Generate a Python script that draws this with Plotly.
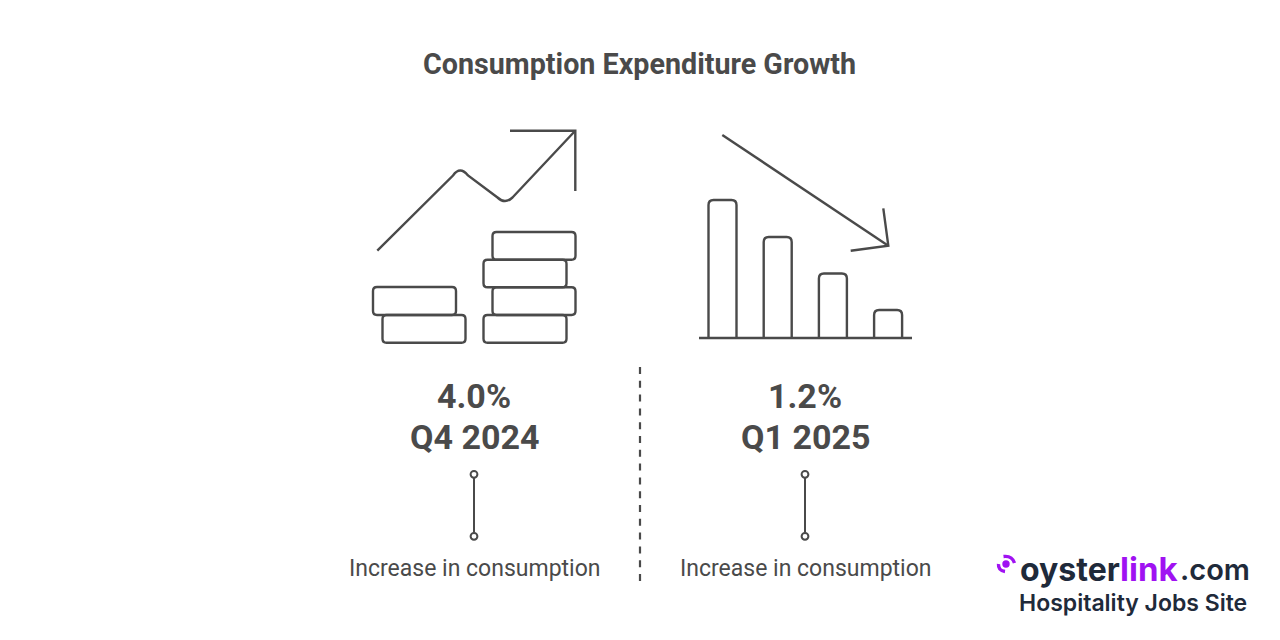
import plotly.graph_objects as go

# text content
titulo = "Consumption Expenditure Growth"
valores = ["4.0%", "1.2%"]
trimestres = ["Q4 2024", "Q1 2025"]
descripcion = ["Increase in consumption", "Increase in consumption"]
centros = [474, 805]

# icon bars (center, height)
barras_x = [722.5, 777.7, 832.9, 888.1]
barras_alto = [138, 101, 64.5, 28]
BASE = 338
ANCHO = 28

# coins: x0, x1, y0, y1
monedas = [
    (373, 456, 287, 315),
    (382.5, 465.5, 315, 342.7),
    (492.5, 575.5, 232, 259.7),
    (483.5, 566.5, 259.7, 287.3),
    (492.5, 575.5, 287.3, 315),
    (483.5, 566.5, 315, 342.7),
]

COLOR = "#4a4a4a"
OSCURO = "#1f2a3a"
VIOLETA = "#a012f2"


def rect_redondeado(x0, x1, y0, y1, r=4):
    return (f"M {x0+r} {y0} L {x1-r} {y0} Q {x1} {y0} {x1} {y0+r} L {x1} {y1-r} Q {x1} {y1} {x1-r} {y1} "
            f"L {x0+r} {y1} Q {x0} {y1} {x0} {y1-r} L {x0} {y0+r} Q {x0} {y0} {x0+r} {y0} Z")


def barra(cx, alto, r=5):
    # open at the foot: the baseline closes it, corners only on top
    x0, x1, y0 = cx - ANCHO / 2, cx + ANCHO / 2, BASE - alto
    return (f"M {x0} {BASE} L {x0} {y0+r} Q {x0} {y0} {x0+r} {y0} L {x1-r} {y0} "
            f"Q {x1} {y0} {x1} {y0+r} L {x1} {BASE}")


fig = go.Figure()

for cx, alto in zip(barras_x, barras_alto):
    fig.add_shape(type="path", path=barra(cx, alto), line=dict(color=COLOR, width=2.4))

for m in monedas:
    fig.add_shape(type="path", path=rect_redondeado(*m), line=dict(color=COLOR, width=2.4))

# up arrow with rounded peaks
fig.add_shape(type="path", line=dict(color=COLOR, width=2.4),
              path="M 377.3 250.7 L 453 175.5 Q 460 165.5 468 175.5 L 497.5 197.5 Q 505 204.5 512.5 197.5 L 575 131")
fig.add_shape(type="path", line=dict(color=COLOR, width=2.4),
              path="M 510 130.7 L 575.3 130.7 L 575.3 191")
# down arrow
fig.add_shape(type="path", line=dict(color=COLOR, width=2.4),
              path="M 722.3 135 L 888.3 245.7")
fig.add_shape(type="path", line=dict(color=COLOR, width=2.4),
              path="M 883.3 208.3 L 888.3 245.7 L 850.7 250.7")
# baseline
fig.add_shape(type="line", x0=699, x1=912, y0=BASE, y1=BASE, line=dict(color=COLOR, width=2.4))
# divider
fig.add_shape(type="line", x0=640, x1=640, y0=367, y1=582,
              line=dict(color=COLOR, width=2.2, dash="7px,6.8px"))

for cx, val, tri, desc in zip(centros, valores, trimestres, descripcion):
    fig.add_shape(type="line", x0=cx, x1=cx, y0=477.5, y1=532.5, line=dict(color=COLOR, width=2))
    for cy in [474.3, 536.3]:
        fig.add_shape(type="circle", x0=cx-3.4, x1=cx+3.4, y0=cy-3.4, y1=cy+3.4,
                      line=dict(color=COLOR, width=2), fillcolor="white")
    fig.add_annotation(x=cx, y=396, text=f"<b>{val}</b>", font=dict(size=34, color=COLOR, family="Roboto"),
                       showarrow=False, yanchor="middle")
    fig.add_annotation(x=cx, y=437, text=f"<b>{tri}</b>", font=dict(size=34, color=COLOR, family="Roboto"),
                       showarrow=False, yanchor="middle")
    fig.add_annotation(x=cx, y=568, text=desc, font=dict(size=23, color=COLOR, family="Roboto"),
                       showarrow=False, yanchor="middle")

fig.add_annotation(x=639.3, y=64, text=f"<b>{titulo}</b>", font=dict(size=28.7, color=COLOR, family="Roboto"),
                   showarrow=False, yanchor="middle")

# logo
fig.add_shape(type="circle", x0=1002.3, x1=1009.7, y0=560.3, y1=567.7, line=dict(color=VIOLETA, width=0), fillcolor=VIOLETA)
fig.add_shape(type="path", line=dict(color=VIOLETA, width=3.4),
              path="M 1003.5 556.5 Q 1012 555.5 1014.5 563")
fig.add_shape(type="path", line=dict(color=VIOLETA, width=3.4),
              path="M 998.5 564 Q 998 570.5 1005 571.5")
fig.add_annotation(x=1018, y=569, xanchor="left", text="oyster",
                   font=dict(size=32, color=OSCURO, family="Inter", weight=700), showarrow=False, yanchor="middle")
fig.add_annotation(x=1117.5, y=569, xanchor="left", text="link",
                   font=dict(size=33, color=VIOLETA, family="Inter", weight=700), showarrow=False, yanchor="middle")
fig.add_annotation(x=1252, y=569, xanchor="right", text=".com",
                   font=dict(size=29, color=OSCURO, family="Inter", weight=600), showarrow=False, yanchor="middle")
fig.add_annotation(x=1133, y=603, text="Hospitality Jobs Site",
                   font=dict(size=23, color=OSCURO, family="Inter", weight=600), showarrow=False, yanchor="middle")

fig.update_xaxes(range=[0, 1280], visible=False, fixedrange=True)
fig.update_yaxes(range=[640, 0], visible=False, fixedrange=True)
fig.update_layout(
    width=1280, height=640,
    margin=dict(l=0, r=0, t=0, b=0),
    paper_bgcolor="white", plot_bgcolor="white",
    showlegend=False,
    font_family="Roboto",
)
# the page's default body margin would push everything 8px
fig.write_html("out.html", config={"displayModeBar": False}, post_script="document.body.style.margin='0';")
